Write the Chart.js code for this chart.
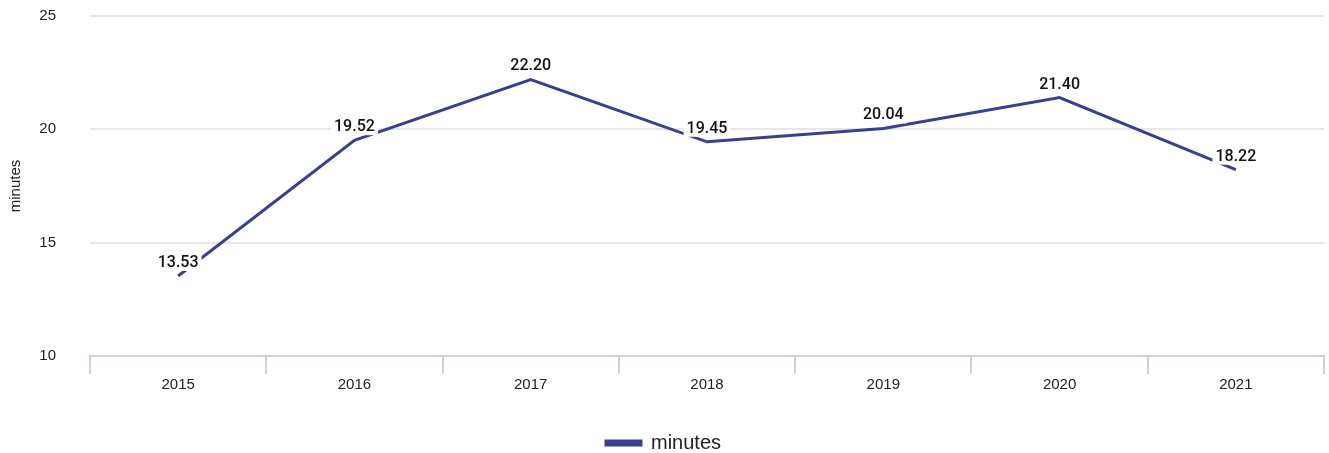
<!DOCTYPE html>
<html>
<head>
<meta charset="utf-8">
<script src="https://cdn.jsdelivr.net/npm/chart.js@4"></script>
<style>
  html, body { margin: 0; padding: 0; background: #fff; }
  #wrap { width: 1329px; height: 453px; }
</style>
</head>
<body>
<div id="wrap"><canvas id="minutesChart" width="1329" height="453"></canvas></div>
<script>
const years = ["2015", "2016", "2017", "2018", "2019", "2020", "2021"];
const minutes = [13.53, 19.52, 22.2, 19.45, 20.04, 21.4, 18.22];
const yTicks = [10, 15, 20, 25];

// draw the value above each point on a white box
const valueLabels = {
  id: "valueLabels",
  afterDatasetsDraw(chart) {
    const ctx = chart.ctx;
    const meta = chart.getDatasetMeta(0);
    ctx.save();
    ctx.font = "500 16px Roboto";
    ctx.textAlign = "center";
    ctx.textBaseline = "middle";
    meta.data.forEach((pt, i) => {
      const txt = minutes[i].toFixed(2);
      const w = ctx.measureText(txt).width;
      const y = pt.y - 13;
      ctx.fillStyle = "#fff";
      ctx.fillRect(pt.x - w / 2 - 3, y - 8, w + 6, 16);
      ctx.fillStyle = "#111";
      ctx.fillText(txt, pt.x, y);
    });
    ctx.restore();
  }
};

new Chart(document.getElementById("minutesChart"), {
  type: "line",
  data: {
    labels: years,
    datasets: [
      {
        label: "minutes",
        data: minutes,
        borderColor: "#39408f",
        backgroundColor: "#39408f",
        borderWidth: 3,
        pointRadius: 0,
        tension: 0,
      },
    ],
  },
  options: {
    responsive: false,
    animation: false,
    layout: { padding: { left: 3, right: 5, top: 0, bottom: -10 } },
    scales: {
      y: {
        min: yTicks[0],
        max: yTicks[yTicks.length - 1],
        grid: { color: "#e4e7eb", lineWidth: 2, drawTicks: false },
        border: { display: false },
        ticks: { stepSize: yTicks[1] - yTicks[0], color: "#222", padding: 34, font: { size: 15, family: "Arial" } },
        title: { display: true, text: "minutes", color: "#222", font: { size: 15, family: "Arial" } },
        afterFit: (axis) => {
          axis.width = 87;
          axis.paddingTop = 16;
          axis.paddingBottom = 0;
        },
      },
      x: {
        offset: true,
        grid: { offset: true, drawOnChartArea: false, color: "#c8d2e0", lineWidth: 2, tickLength: 18 },
        border: { color: "#c8d2e0", width: 2 },
        ticks: { color: "#222", padding: 2, font: { size: 15, family: "Arial" } },
        afterFit: (axis) => { axis.height += 33; },
      },
    },
    plugins: {
      legend: {
        position: "bottom",
        labels: { color: "#222", boxWidth: 35, boxHeight: 4, padding: 4, font: { size: 20, family: "Arial" } },
      },
      tooltip: { enabled: false },
    },
  },
  plugins: [valueLabels],
});
</script>
</body>
</html>
